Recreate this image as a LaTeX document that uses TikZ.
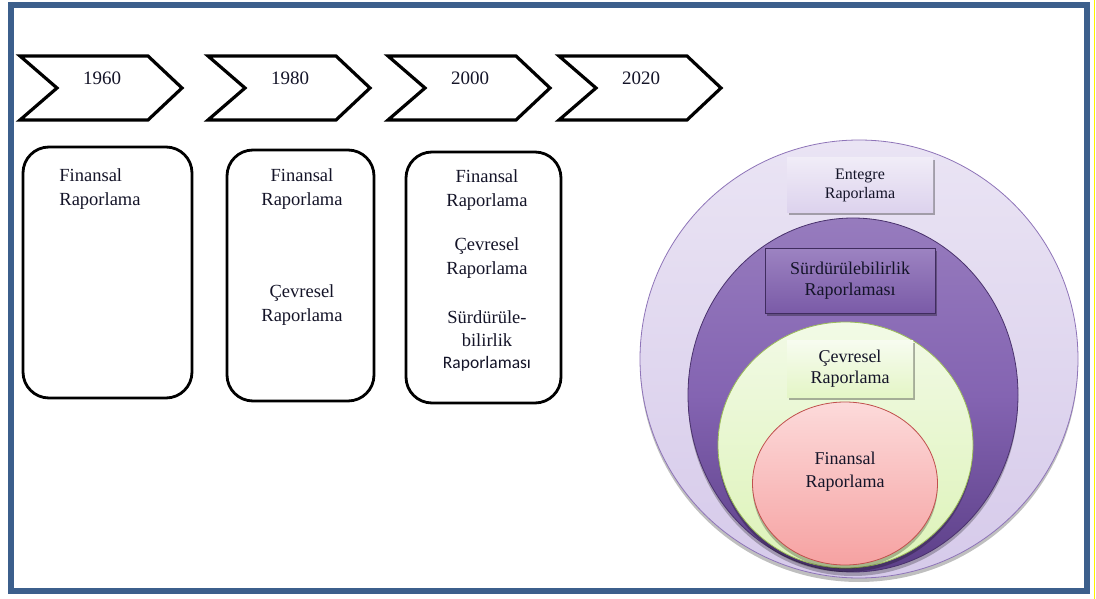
\documentclass[tikz,border=0pt]{standalone}
\usepackage{fontspec}
\setmainfont{Liberation Serif}
\newfontfamily\carlito{Carlito}
\usetikzlibrary{shapes.geometric,shadows}
\definecolor{frameblue}{HTML}{3C5F8C}
\definecolor{lavtop}{HTML}{EAE4F4}
\definecolor{lavbot}{HTML}{D6CAEA}
\definecolor{lavline}{HTML}{8E74B8}
\definecolor{purptop}{HTML}{8464B2}
\definecolor{purpbot}{HTML}{5C3F88}
\definecolor{greentop}{HTML}{F2FAE6}
\definecolor{greenbot}{HTML}{DDF3B8}
\definecolor{greenline}{HTML}{9BBB59}
\definecolor{pinktop}{HTML}{FCDADA}
\definecolor{pinkbot}{HTML}{F6A2A2}
\definecolor{pinkline}{HTML}{C0504D}
\definecolor{txt}{HTML}{141428}
\tikzset{
  chev/.style={draw=black, line width=3.2pt, line join=miter, fill=white},
  yeartext/.style={font=\fontsize{19}{22}\selectfont, text=txt, inner sep=0pt},
  roundbox/.style={draw=black, line width=2.8pt, rounded corners=26pt, fill=white},
  boxtext/.style={font=\fontsize{18.5}{23.5}\selectfont, text=txt, align=center, inner sep=0pt},
  ring/.style={ellipse, inner sep=0pt, line width=0.8pt,
     drop shadow={shadow xshift=0pt, shadow yshift=-4pt, opacity=0.25, fill=black}},
  tag/.style={rectangle, inner sep=0pt, text=txt, align=center,
     drop shadow={shadow xshift=1.5pt, shadow yshift=-2.5pt, opacity=0.3, fill=black}},
}
\newcommand\yearchev[3]{%
  \draw[chev] (#1,56) -- ++(128,0) -- ++(34,32) -- ++(-34,32) -- ++(-128,0) -- ++(37,-32) -- cycle;
  \node[yeartext] (#2) at (#1+82,78) {#3};}
\begin{document}
\begin{tikzpicture}[x=1pt,y=-1pt]
\useasboundingbox (0,0) rectangle (1096,599);
\fill[white] (0,0) rectangle (1096,599);
% frame
\draw[frameblue, line width=6pt] (11,5) rectangle (1087,590.5);
\draw[yellow, line width=1.6pt] (1094.5,0) -- (1094.5,599);
% timeline chevrons
\yearchev{20}{y1960}{1960}
\yearchev{208}{y1980}{1980}
\yearchev{388}{y2000}{2000}
\yearchev{559}{y2020}{2020}
% rounded boxes
\draw[roundbox] (23,147) rectangle (192,398);
\draw[roundbox] (227,150) rectangle (374,401);
\draw[roundbox] (406,152) rectangle (561,403);
\node[boxtext, align=left] (b1fin) at (100,189) {Finansal\\Raporlama};
\node[boxtext] (b2fin) at (302,189) {Finansal\\Raporlama};
\node[boxtext] (b2cev) at (302,305) {Çevresel\\Raporlama};
\node[boxtext] (b3fin) at (487,190) {Finansal\\Raporlama};
\node[boxtext] (b3cev) at (487,258) {Çevresel\\Raporlama};
\node[boxtext, font=\fontsize{18.5}{22.5}\selectfont] (b3sur) at (487,341) {Sürdürüle-\\bilirlik\\{\carlito\fontsize{17.5}{22.5}\selectfont Raporlaması}};
% nested circles
\node[ring, draw=lavline, top color=lavtop, bottom color=lavbot,
      minimum width=438pt, minimum height=438pt] (entc) at (859,359) {};
\node[ring, draw=purpbot!80!black, top color=purptop!85!white, bottom color=purpbot,
      middle color=purptop, minimum width=330pt, minimum height=354pt] (surc) at (853,395) {};
\node[ring, draw=greenline, top color=greentop, bottom color=greenbot,
      minimum width=255pt, minimum height=246pt] (cevc) at (845.5,445) {};
\node[ring, draw=pinkline, top color=pinktop, bottom color=pinkbot,
      minimum width=185pt, minimum height=163pt] (finc) at (845,483.5) {};
% labels
\node[tag, top color=lavtop!70!white, bottom color=lavbot!85!white,
      minimum width=146pt, minimum height=55pt, font=\fontsize{16}{18.5}\selectfont] (entt) at (860,185.5) {Entegre\\Raporlama};
\node[tag, draw=purpbot!70!black, line width=0.6pt, top color=purptop!80!white, bottom color=purptop!75!purpbot,
      minimum width=170pt, minimum height=65pt, font=\fontsize{18}{21}\selectfont] (surt) at (850,280.5) {Sürdürülebilirlik\\Raporlaması};
\node[tag, top color=greentop!60!white, bottom color=greenbot!80!white,
      minimum width=126pt, minimum height=57pt, font=\fontsize{18}{20.5}\selectfont] (cevt) at (850,368.5) {Çevresel\\Raporlama};
\node[inner sep=0pt, text=txt, align=center, font=\fontsize{18}{23}\selectfont] (fint) at (845,471.5) {Finansal\\Raporlama};
\end{tikzpicture}
\end{document}
